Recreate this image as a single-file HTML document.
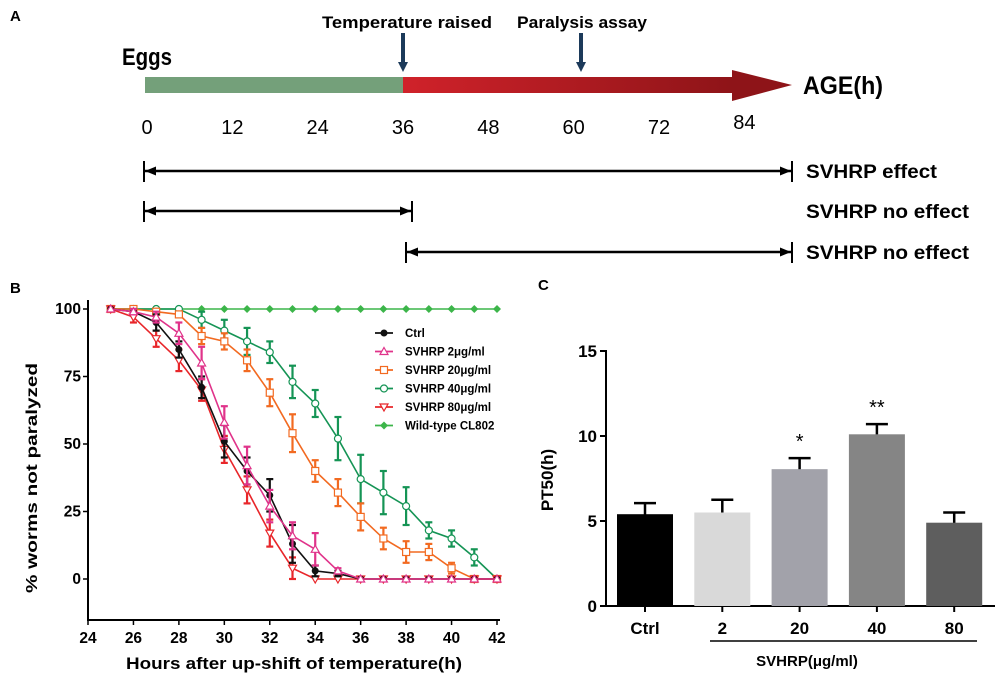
<!DOCTYPE html>
<html><head><meta charset="utf-8"><style>
html,body{margin:0;padding:0;background:#fff;}
svg{display:block;font-family:"Liberation Sans",sans-serif;}
.b{font-weight:bold;}
.n{font-family:"Liberation Sans Narrow","Liberation Sans",sans-serif;}
</style></head><body>
<svg id="fig" width="1000" height="679" viewBox="0 0 1000 679" xmlns="http://www.w3.org/2000/svg">
<defs>
<linearGradient id="rg" x1="0" x2="1" y1="0" y2="0"><stop offset="0" stop-color="#d0222a"/><stop offset="1" stop-color="#8e1418"/></linearGradient>
<marker id="ah" markerUnits="userSpaceOnUse" markerWidth="11" markerHeight="9" refX="11" refY="4.5" orient="auto-start-reverse"><path d="M0,0 L11,4.5 L0,9 z" fill="#000"/></marker>
</defs>
<!-- Panel A -->
<g>
<text x="10" y="21" class="b n" font-size="15">A</text>
<text x="122" y="65" class="b n" font-size="24" textLength="50" lengthAdjust="spacingAndGlyphs">Eggs</text>
<rect x="145" y="77" width="258" height="16" fill="#74a07a"/>
<rect x="403" y="77" width="330" height="16" fill="url(#rg)"/>
<polygon points="732,70 792,85 732,101" fill="#8e1418"/>
<text x="803" y="94" class="b n" font-size="25" textLength="80" lengthAdjust="spacingAndGlyphs">AGE(h)</text>
<text x="322" y="28" class="b n" font-size="17" textLength="170" lengthAdjust="spacingAndGlyphs">Temperature raised</text>
<line x1="403" y1="33" x2="403" y2="64" stroke="#1c3a5a" stroke-width="4"/>
<polygon points="398,62 408,62 403,72" fill="#1c3a5a"/>
<text x="517" y="28" class="b n" font-size="17" textLength="130" lengthAdjust="spacingAndGlyphs">Paralysis assay</text>
<line x1="581" y1="33" x2="581" y2="64" stroke="#1c3a5a" stroke-width="4"/>
<polygon points="576,62 586,62 581,72" fill="#1c3a5a"/>
<g id="ageTicks" font-size="20" class="n"></g>
<line x1="145" y1="171" x2="791" y2="171" stroke="#000" stroke-width="2.5" marker-start="url(#ah)" marker-end="url(#ah)"/>
<line x1="144" y1="161" x2="144" y2="182" stroke="#000" stroke-width="2"/><line x1="792" y1="161" x2="792" y2="182" stroke="#000" stroke-width="2"/>
<text x="806" y="178" class="b n" font-size="19" textLength="131" lengthAdjust="spacingAndGlyphs">SVHRP effect</text>
<line x1="145" y1="211" x2="411" y2="211" stroke="#000" stroke-width="2.5" marker-start="url(#ah)" marker-end="url(#ah)"/>
<line x1="144" y1="201" x2="144" y2="222" stroke="#000" stroke-width="2"/><line x1="412" y1="201" x2="412" y2="222" stroke="#000" stroke-width="2"/>
<text x="806" y="218" class="b n" font-size="19" textLength="163" lengthAdjust="spacingAndGlyphs">SVHRP no effect</text>
<line x1="407" y1="252" x2="791" y2="252" stroke="#000" stroke-width="2.5" marker-start="url(#ah)" marker-end="url(#ah)"/>
<line x1="406" y1="242" x2="406" y2="263" stroke="#000" stroke-width="2"/><line x1="792" y1="242" x2="792" y2="263" stroke="#000" stroke-width="2"/>
<text x="806" y="259" class="b n" font-size="19" textLength="163" lengthAdjust="spacingAndGlyphs">SVHRP no effect</text>
</g>
<!-- Panel B -->
<g id="pb">
<text x="10" y="293" class="b" font-size="15">B</text>
<line x1="88" y1="300" x2="88" y2="620" stroke="#000" stroke-width="2"/>
<line x1="87" y1="620" x2="500" y2="620" stroke="#000" stroke-width="2"/>
<text transform="translate(37,478) rotate(-90)" text-anchor="middle" class="b" font-size="16" textLength="230" lengthAdjust="spacingAndGlyphs">% worms not paralyzed</text>
<text x="294" y="669" text-anchor="middle" class="b" font-size="17" textLength="336" lengthAdjust="spacingAndGlyphs">Hours after up-shift of temperature(h)</text>
<g id="bAxes"></g><g id="bSeries"></g><g id="bLegend"></g>
</g>
<!-- Panel C -->
<g id="pc">
<text x="538" y="290" class="b" font-size="15">C</text>
<line x1="606" y1="350" x2="606" y2="607" stroke="#000" stroke-width="2"/>
<line x1="605" y1="606" x2="995" y2="606" stroke="#000" stroke-width="2"/>
<text transform="translate(553,480) rotate(-90)" text-anchor="middle" class="b" font-size="17">PT50(h)</text>
<line x1="710" y1="641" x2="977" y2="641" stroke="#000" stroke-width="1.5"/>
<text x="807" y="666" text-anchor="middle" class="b" font-size="15">SVHRP(μg/ml)</text>
<g id="cAxes"></g><g id="cBars"></g>
</g>
</svg>
<script>
const NS="http://www.w3.org/2000/svg";
function mk(p,t,a){const e=document.createElementNS(NS,t);for(const k in a)e.setAttribute(k,a[k]);p.appendChild(e);return e;}

// Panel A ticks
const ageTicks=[0,12,24,36,48,60,72,84];
const ag=document.getElementById('ageTicks');
ageTicks.forEach(v=>{const t=mk(ag,'text',{x:147+v*(403-147)/36,y:v===84?129:134,'text-anchor':'middle'});t.textContent=v;

});

// Panel B data
const hours=[25,26,27,28,29,30,31,32,33,34,35,36,37,38,39,40,41,42];
const xTicks=[24,26,28,30,32,34,36,38,40,42];
const yTicks=[0,25,50,75,100];
const ctrlVals=[100,99,95,85,71,51,40,31,13,3,2,0,0,0,0,0,0,0];
const ctrlErr=[0,1,3,3,4,6,5,6,7,2,1,0,0,0,0,0,0,0];
const s2Vals=[100,99,97,91,80,58,42,27,16,11,3,0,0,0,0,0,0,0];
const s2Err=[0,1,2,4,6,6,7,6,5,6,1,0,0,0,0,0,0,0];
const s20Vals=[100,100,99,98,90,88,81,69,54,40,32,23,15,10,10,4,0,0];
const s20Err=[0,0,1,1,3,3,4,5,7,4,5,5,4,4,3,2,0,0];
const s40Vals=[100,100,100,100,96,92,88,84,73,65,52,37,32,27,18,15,8,0];
const s40Err=[0,0,0,0,3,4,5,4,6,5,8,9,8,7,3,3,3,0];
const s80Vals=[100,97,89,81,70,48,33,17,4,0,0,0,0,0,0,0,0,0];
const s80Err=[0,2,3,4,4,5,5,5,4,0,0,0,0,0,0,0,0,0];
const wtVals=[100,100,100,100,100,100,100,100,100,100,100,100,100,100,100,100,100,100];
const seriesNames=["Ctrl","SVHRP 2μg/ml","SVHRP 20μg/ml","SVHRP 40μg/ml","SVHRP 80μg/ml","Wild-type CL802"];

const xB=t=>88+(t-24)*(497-88)/18;
const yB=v=>579-v*2.7;
const ba=document.getElementById('bAxes');
xTicks.forEach(t=>{mk(ba,'line',{x1:xB(t),x2:xB(t),y1:620,y2:625,stroke:'#000','stroke-width':1.5});
const e=mk(ba,'text',{x:xB(t),y:643,'text-anchor':'middle','font-size':15.5,'font-weight':'bold'});e.textContent=t;

});
yTicks.forEach(v=>{mk(ba,'line',{x1:83,x2:88,y1:yB(v),y2:yB(v),stroke:'#000','stroke-width':1.5});
const e=mk(ba,'text',{x:81,y:yB(v)+5,'text-anchor':'end','font-size':15.5,'font-weight':'bold'});e.textContent=v;

});

function marker(g,type,x,y,c){
 if(type==='fc')return mk(g,'circle',{cx:x,cy:y,r:3.5,fill:c});
 if(type==='oc')return mk(g,'circle',{cx:x,cy:y,r:3.5,fill:'#fff',stroke:c,'stroke-width':1.2});
 if(type==='sq')return mk(g,'rect',{x:x-3.5,y:y-3.5,width:7,height:7,fill:'#fff',stroke:c,'stroke-width':1.2});
 if(type==='tu')return mk(g,'polygon',{points:`${x},${y-4} ${x+4},${y+3} ${x-4},${y+3}`,fill:'#fff',stroke:c,'stroke-width':1.2});
 if(type==='td')return mk(g,'polygon',{points:`${x},${y+4} ${x+4},${y-3} ${x-4},${y-3}`,fill:'#fff',stroke:c,'stroke-width':1.2});
 if(type==='di')return mk(g,'polygon',{points:`${x},${y-4} ${x+4},${y} ${x},${y+4} ${x-4},${y}`,fill:c});
}
const seriesDefs=[
 {vals:wtVals,err:null,c:'#3cb54a',m:'di',key:'wild-type'},
 {vals:s40Vals,err:s40Err,c:'#159455',m:'oc',key:'svhrp-40'},
 {vals:s20Vals,err:s20Err,c:'#f26a21',m:'sq',key:'svhrp-20'},
 {vals:s80Vals,err:s80Err,c:'#e8262a',m:'td',key:'svhrp-80'},
 {vals:ctrlVals,err:ctrlErr,c:'#111',m:'fc',key:'ctrl'},
 {vals:s2Vals,err:s2Err,c:'#e0338a',m:'tu',key:'svhrp-2'}];
const bs=document.getElementById('bSeries');
seriesDefs.forEach(s=>{
 const g=mk(bs,'g',{});
 
 
 mk(g,'polyline',{points:hours.map((h,i)=>xB(h)+','+yB(s.vals[i])).join(' '),fill:'none',stroke:s.c,'stroke-width':1.6});
 hours.forEach((h,i)=>{
  if(s.err&&s.err[i]>0){const x=xB(h),y1=yB(s.vals[i]+s.err[i]),y2=yB(s.vals[i]-s.err[i]);
   mk(g,'line',{x1:x,x2:x,y1:y1,y2:y2,stroke:s.c,'stroke-width':2.2});
   mk(g,'line',{x1:x-3.5,x2:x+3.5,y1:y1,y2:y1,stroke:s.c,'stroke-width':2.2});
   mk(g,'line',{x1:x-3.5,x2:x+3.5,y1:y2,y2:y2,stroke:s.c,'stroke-width':2.2});}
  const m=marker(g,s.m,xB(h),yB(s.vals[i]),s.c);
  
  
 });
});
const legendDefs=[['#111','fc'],['#e0338a','tu'],['#f26a21','sq'],['#159455','oc'],['#e8262a','td'],['#3cb54a','di']];
const bl=document.getElementById('bLegend');
seriesNames.forEach((n,i)=>{const y=333+i*18.5;const g=mk(bl,'g',{});
 
 
 mk(g,'line',{x1:375,x2:393,y1:y,y2:y,stroke:legendDefs[i][0],'stroke-width':1.8});
 marker(g,legendDefs[i][1],384,y,legendDefs[i][0]);
 const t=mk(g,'text',{x:405,y:y+4,'font-size':11.5,'font-weight':'bold'});t.textContent=n;});

// Panel C data
const cCats=["Ctrl","2","20","40","80"];
const cVals=[5.4,5.5,8.05,10.1,4.9];
const cErr=[0.65,0.75,0.65,0.6,0.6];
const cColors=["#000","#d9d9d9","#a2a2aa","#858585","#5e5e5e"];
const cSig=["","","*","**",""];
const cTicks=[0,5,10,15];
const yC=v=>606-v*17;
const xC=i=>645+i*77.3;
const ca=document.getElementById('cAxes');
cTicks.forEach(v=>{mk(ca,'line',{x1:600,x2:606,y1:yC(v),y2:yC(v),stroke:'#000','stroke-width':2});
const e=mk(ca,'text',{x:597,y:yC(v)+6,'text-anchor':'end','font-size':17,'font-weight':'bold'});e.textContent=v;

});
const cb=document.getElementById('cBars');
cCats.forEach((c,i)=>{const x=xC(i);
 mk(ca,'line',{x1:x,x2:x,y1:606,y2:612,stroke:'#000','stroke-width':2});
 const t=mk(ca,'text',{x:x,y:634,'text-anchor':'middle','font-size':17,'font-weight':'bold'});t.textContent=c;
 
 
 const top=yC(cVals[i]+cErr[i]);
 mk(cb,'line',{x1:x,x2:x,y1:top,y2:yC(cVals[i])+4,stroke:'#000','stroke-width':2.5});
 mk(cb,'line',{x1:x-11,x2:x+11,y1:top,y2:top,stroke:'#000','stroke-width':2.5});
 const r=mk(cb,'rect',{x:x-28,y:yC(cVals[i]),width:56,height:606-yC(cVals[i]),fill:cColors[i]});
 
 
 if(cSig[i]){const s=mk(cb,'text',{x:x,y:top-10,'text-anchor':'middle','font-size':20});s.textContent=cSig[i];
 
 }
});
</script>
</body></html>
